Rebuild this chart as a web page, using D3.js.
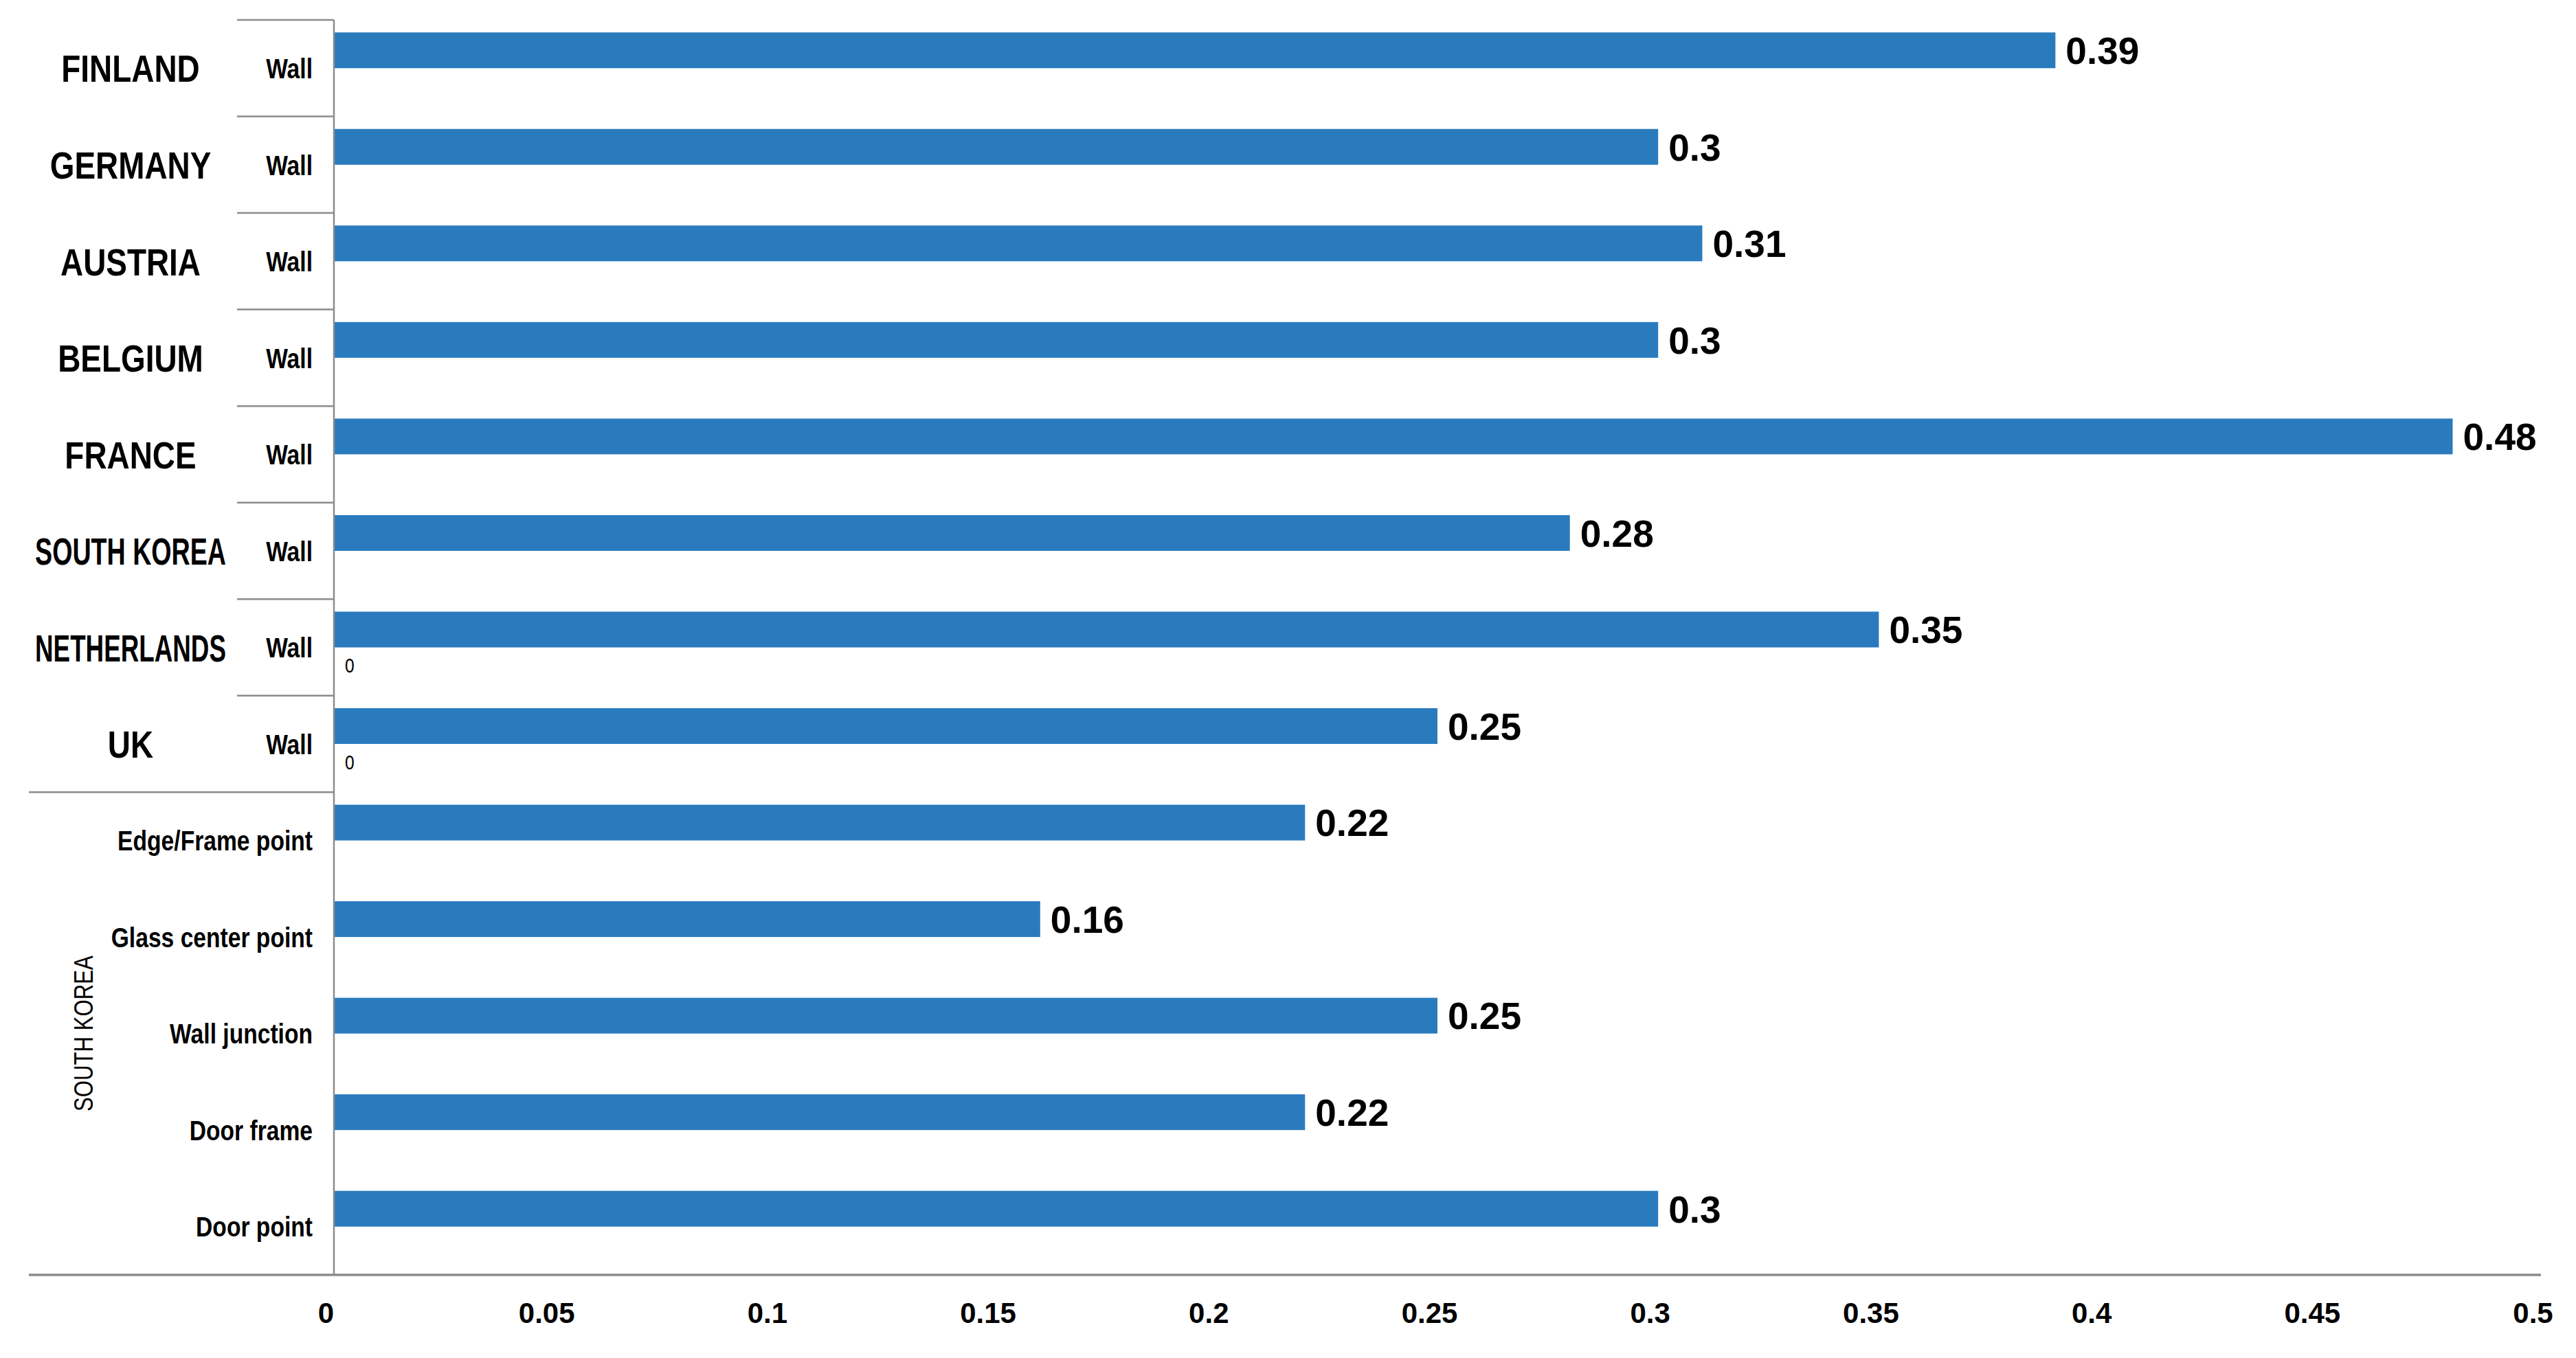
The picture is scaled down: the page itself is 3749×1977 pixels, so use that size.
<!DOCTYPE html>
<html>
<head>
<meta charset="utf-8">
<script src="https://cdn.jsdelivr.net/npm/d3@7"></script>
<style>
  body { margin: 0; background: #fff; }
  text { fill: #000; }
</style>
</head>
<body>
<div id="chart"></div>
<script>
// data
const countries = ["FINLAND", "GERMANY", "AUSTRIA", "BELGIUM", "FRANCE", "SOUTH KOREA", "NETHERLANDS", "UK"];
const rowLabels = ["Wall", "Wall", "Wall", "Wall", "Wall", "Wall", "Wall", "Wall",
  "Edge/Frame point", "Glass center point", "Wall junction", "Door frame", "Door point"];
const groupLabel = "SOUTH KOREA";
const values = [0.39, 0.3, 0.31, 0.3, 0.48, 0.28, 0.35, 0.25, 0.22, 0.16, 0.25, 0.22, 0.3];
const zeroValues = [0, 0, 0, 0, 0, 0, 0, 0, 0, 0, 0, 0, 0];
const zeroLabels = ["", "", "", "", "", "", "0", "0", "", "", "", "", ""];
const xTicks = [0, 0.05, 0.1, 0.15, 0.2, 0.25, 0.3, 0.35, 0.4, 0.45, 0.5];

const width = 3749;
const height = 1977;
const margin = { top: 29, bottom: 121, left: 486, right: 51 };
const font = "'Liberation Sans', Arial, sans-serif";
const squeeze = 0.82; // the labels in the original are set in a condensed face
const gridColor = "#8c8c8c";
const barColor = "#2a7bbe";

const svg = d3.select("#chart")
  .append("svg")
  .attr("width", width)
  .attr("height", height);

const x = d3.scaleLinear().domain([0, 0.5]).range([margin.left, width - margin.right]);
const y = d3.scaleBand().domain(d3.range(rowLabels.length)).range([margin.top, height - margin.bottom]);
const sub = d3.scaleBand().domain(["main", "zero"]).range([0, y.bandwidth()]).paddingOuter(0.35);

const rowMid = (i) => y(i) + y.bandwidth() / 2;

// separators between the rows of the category axis
svg.selectAll(".sep")
  .data(d3.range(0, countries.length + 1))
  .join("line")
  .attr("class", "sep")
  .attr("x1", (d) => (d === countries.length ? 42 : 345))
  .attr("x2", x(0))
  .attr("y1", (d) => y(d))
  .attr("y2", (d) => y(d))
  .attr("stroke", gridColor)
  .attr("stroke-width", 2.5);

// bars
svg.selectAll(".bar")
  .data(values)
  .join("rect")
  .attr("class", "bar")
  .attr("x", x(0))
  .attr("y", (d, i) => y(i) + sub("main"))
  .attr("width", (d) => x(d) - x(0))
  .attr("height", sub.bandwidth())
  .attr("fill", barColor);

// second (zero) series
svg.selectAll(".bar0")
  .data(zeroValues)
  .join("rect")
  .attr("class", "bar0")
  .attr("x", x(0))
  .attr("y", (d, i) => y(i) + sub("zero"))
  .attr("width", (d) => x(d) - x(0))
  .attr("height", sub.bandwidth())
  .attr("fill", "#c0504d");

// value labels
svg.selectAll(".val")
  .data(values)
  .join("text")
  .attr("class", "val")
  .attr("x", (d) => x(d) + 15)
  .attr("y", (d, i) => y(i) + sub("main") + sub.bandwidth() / 2)
  .attr("dy", "0.36em")
  .attr("font-family", font)
  .attr("font-weight", "bold")
  .attr("font-size", 55)
  .text((d) => d);

svg.selectAll(".val0")
  .data(zeroValues)
  .join("text")
  .attr("class", "val0")
  .attr("transform", (d, i) => "translate(" + (x(d) + 16) + "," + (y(i) + sub("zero") + sub.bandwidth() / 2) + ") scale(" + squeeze + ",1)")
  .attr("dy", "0.36em")
  .attr("font-family", font)
  .attr("font-size", 30)
  .text((d, i) => zeroLabels[i]);

// axis lines
svg.append("line")
  .attr("x1", x(0)).attr("x2", x(0))
  .attr("y1", margin.top).attr("y2", height - margin.bottom)
  .attr("stroke", gridColor).attr("stroke-width", 2.5);

const xAxis = svg.append("g")
  .attr("transform", "translate(0," + (height - margin.bottom) + ")")
  .call(d3.axisBottom(x).tickValues(xTicks).tickSize(0).tickPadding(40).tickFormat(d3.format("~g")));
xAxis.select(".domain").remove();
xAxis.selectAll("text")
  .attr("x", -12)
  .attr("font-family", font)
  .attr("font-weight", "bold")
  .attr("font-size", 42)
  .attr("fill", "#000");
svg.append("line")
  .attr("x1", 42).attr("x2", x(0.5))
  .attr("y1", height - margin.bottom).attr("y2", height - margin.bottom)
  .attr("stroke", gridColor).attr("stroke-width", 3.5);

// row labels
svg.selectAll(".row")
  .data(rowLabels)
  .join("text")
  .attr("class", "row")
  .attr("transform", (d, i) => "translate(455," + rowMid(i) + ") scale(" + squeeze + ",1)")
  .attr("dy", "0.36em")
  .attr("text-anchor", "end")
  .attr("font-family", font)
  .attr("font-weight", "bold")
  .attr("font-size", 41)
  .text((d) => d);

// country labels; long names get squeezed harder to fit the cell
const countryText = svg.selectAll(".country")
  .data(countries)
  .join("text")
  .attr("class", "country")
  .attr("dy", "0.36em")
  .attr("text-anchor", "middle")
  .attr("font-family", font)
  .attr("font-weight", "bold")
  .attr("font-size", 56)
  .text((d) => d);
countryText.each(function (d, i) {
  const maxW = 278;
  const w = this.getComputedTextLength() * squeeze;
  const s = w > maxW ? squeeze * maxW / w : squeeze;
  d3.select(this).attr("transform", "translate(190," + rowMid(i) + ") scale(" + s + ",1)");
});

// group label for the last rows
const g0 = countries.length;
const g1 = rowLabels.length - 1;
const gy = (y(g0) + y(g1) + y.bandwidth()) / 2;
svg.append("text")
  .attr("transform", "translate(121," + gy + ") rotate(-90) scale(" + squeeze + ",1)")
  .attr("dy", "0.36em")
  .attr("text-anchor", "middle")
  .attr("font-family", font)
  .attr("font-size", 38)
  .text(groupLabel);
</script>
</body>
</html>
